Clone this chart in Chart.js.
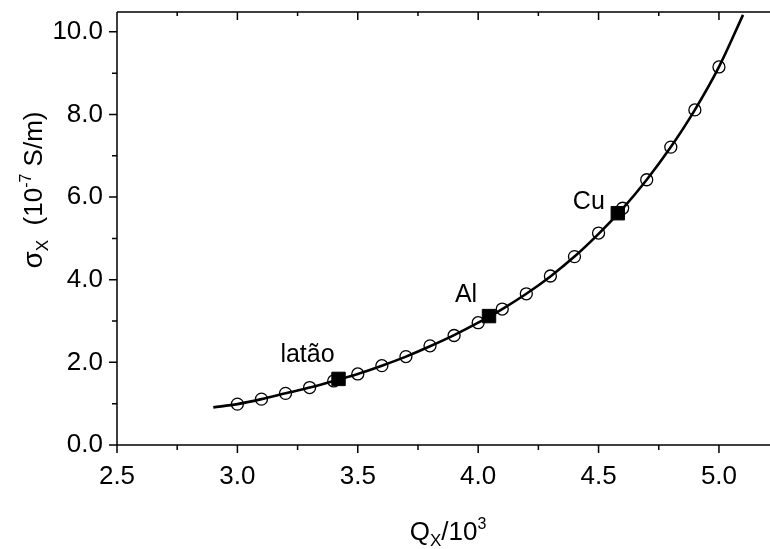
<!DOCTYPE html>
<html>
<head>
<meta charset="utf-8">
<script src="https://cdn.jsdelivr.net/npm/chart.js@4.4.1/dist/chart.umd.min.js"></script>
<style>
  html, body { margin: 0; padding: 0; background: #fff; }
  #wrap { width: 770px; height: 549px; position: relative; }
</style>
</head>
<body>
<div id="wrap"><canvas id="chart" width="770" height="549"></canvas></div>
<script>
// measured points (open circles)
const qx = [3.0, 3.1, 3.2, 3.3, 3.4, 3.5, 3.6, 3.7, 3.8, 3.9, 4.0, 4.1, 4.2, 4.3, 4.4, 4.5, 4.6, 4.7, 4.8, 4.9, 5.0];
const sigma = [0.99, 1.11, 1.25, 1.39, 1.55, 1.72, 1.92, 2.14, 2.40, 2.65, 2.96, 3.29, 3.66, 4.09, 4.56, 5.13, 5.73, 6.42, 7.21, 8.11, 9.15];

// fitted curve
const curveX = [2.9, 3.0, 3.1, 3.2, 3.3, 3.4, 3.5, 3.6, 3.7, 3.8, 3.9, 4.0, 4.1, 4.2, 4.3, 4.4, 4.5, 4.6, 4.7, 4.8, 4.9, 5.0, 5.1];
const curveY = [0.91, 0.99, 1.11, 1.25, 1.39, 1.55, 1.72, 1.92, 2.14, 2.39, 2.66, 2.96, 3.29, 3.66, 4.08, 4.56, 5.11, 5.72, 6.42, 7.21, 8.11, 9.15, 10.41];

// metals
const metals = ['latão', 'Al', 'Cu'];
const metalX = [3.42, 4.045, 4.58];
const metalY = [1.60, 3.12, 5.61];

const xTicks = [2.5, 3.0, 3.5, 4.0, 4.5, 5.0];
const yTicks = [0, 2, 4, 6, 8, 10];
const xMinor = [2.75, 3.25, 3.75, 4.25, 4.75];
const yMinor = [1, 3, 5, 7, 9];

const FONT = '"Liberation Sans", Arial, sans-serif';
const labelOffsets = [[-31, -24], [-23, -21], [-29, -11]];

const pts = (xs, ys) => xs.map((x, i) => ({ x, y: ys[i] }));

const framePlugin = {
    id: 'frame',
    afterDraw(chart) {
        const ctx = chart.ctx;
        const a = chart.chartArea;
        const xs = chart.scales.x, ys = chart.scales.y;
        ctx.save();
        ctx.strokeStyle = '#000';
        ctx.lineWidth = 1.5;
        ctx.beginPath();
        // left, bottom, top lines
        ctx.moveTo(a.left, a.top); ctx.lineTo(a.left, a.bottom);
        ctx.moveTo(a.left, a.bottom); ctx.lineTo(a.right, a.bottom);
        ctx.moveTo(a.left, a.top); ctx.lineTo(a.right, a.top);
        xTicks.forEach(v => {
            const p = xs.getPixelForValue(v);
            ctx.moveTo(p, a.bottom); ctx.lineTo(p, a.bottom + 8);
            ctx.moveTo(p, a.top); ctx.lineTo(p, a.top + 8);
        });
        xMinor.forEach(v => {
            const p = xs.getPixelForValue(v);
            ctx.moveTo(p, a.bottom); ctx.lineTo(p, a.bottom + 5);
            ctx.moveTo(p, a.top); ctx.lineTo(p, a.top + 4);
        });
        yTicks.forEach(v => {
            const p = ys.getPixelForValue(v);
            ctx.moveTo(a.left, p); ctx.lineTo(a.left - 8, p);
        });
        yMinor.forEach(v => {
            const p = ys.getPixelForValue(v);
            ctx.moveTo(a.left, p); ctx.lineTo(a.left - 5, p);
        });
        ctx.stroke();

        // metal labels
        ctx.fillStyle = '#000';
        ctx.font = '25px ' + FONT;
        ctx.textAlign = 'center';
        ctx.textBaseline = 'middle';
        metals.forEach((m, i) => {
            const px = xs.getPixelForValue(metalX[i]) + labelOffsets[i][0];
            const py = ys.getPixelForValue(metalY[i]) + labelOffsets[i][1];
            ctx.fillText(m, px, py);
        });

        // axis titles with sub/superscripts
        const drawRich = (parts, cx, base) => {
            let w = 0;
            parts.forEach(p => { ctx.font = p.size + 'px ' + FONT; w += ctx.measureText(p.t).width; });
            let x = cx - w / 2;
            ctx.textAlign = 'left';
            ctx.textBaseline = 'alphabetic';
            parts.forEach(p => {
                ctx.font = p.size + 'px ' + FONT;
                ctx.fillText(p.t, x, base + p.dy);
                x += ctx.measureText(p.t).width;
            });
        };
        drawRich([
            { t: 'Q', size: 26, dy: 0 },
            { t: 'X', size: 17, dy: 6 },
            { t: '/10', size: 26, dy: 0 },
            { t: '3', size: 16, dy: -11 }
        ], 448, 540);

        ctx.save();
        ctx.translate(42, 190);
        ctx.rotate(-Math.PI / 2);
        drawRich([
            { t: 'σ', size: 28, dy: 0 },
            { t: 'X', size: 17, dy: 6 },
            { t: '  (10', size: 26, dy: 0 },
            { t: '-7', size: 16, dy: -11 },
            { t: ' S/m)', size: 26, dy: 0 }
        ], 0, 0);
        ctx.restore();
        ctx.restore();
    }
};

const chart = new Chart(document.getElementById('chart'), {
    type: 'scatter',
    data: {
        datasets: [
            {
                label: 'fit',
                data: pts(curveX, curveY),
                showLine: true,
                borderColor: '#000',
                borderWidth: 2.6,
                pointRadius: 0,
                cubicInterpolationMode: 'monotone'
            },
            {
                label: 'points',
                data: pts(qx, sigma),
                pointStyle: 'circle',
                pointRadius: 6,
                borderColor: '#000',
                borderWidth: 1.3,
                backgroundColor: 'rgba(0,0,0,0)'
            },
            {
                label: 'metals',
                data: pts(metalX, metalY),
                pointStyle: 'rect',
                pointRadius: 9.5,
                borderColor: '#000',
                backgroundColor: '#000'
            }
        ]
    },
    options: {
        responsive: false,
        animation: false,
        layout: { autoPadding: false, padding: { left: 0, top: 12, right: 0, bottom: 0 } },
        plugins: { legend: { display: false }, tooltip: { enabled: false } },
        scales: {
            x: {
                type: 'linear',
                min: 2.5,
                max: 5.212,
                grid: { display: false, drawTicks: false },
                border: { display: false },
                afterBuildTicks: s => { s.ticks = xTicks.map(v => ({ value: v })); },
                afterFit: s => { s.height = 104; s.paddingLeft = 0; s.paddingRight = 0; },
                ticks: {
                    padding: 16,
                    color: '#000',
                    font: { family: FONT, size: 26 },
                    callback: v => v.toFixed(1)
                }
            },
            y: {
                type: 'linear',
                min: 0,
                max: 10.48,
                grid: { display: false, drawTicks: false },
                border: { display: false },
                afterBuildTicks: s => { s.ticks = yTicks.map(v => ({ value: v })); },
                afterFit: s => { s.width = 117; s.paddingTop = 0; s.paddingBottom = 0; },
                ticks: {
                    padding: 14,
                    color: '#000',
                    font: { family: FONT, size: 26 },
                    callback: v => v.toFixed(1)
                }
            }
        }
    },
    plugins: [framePlugin]
});
</script>
</body>
</html>
